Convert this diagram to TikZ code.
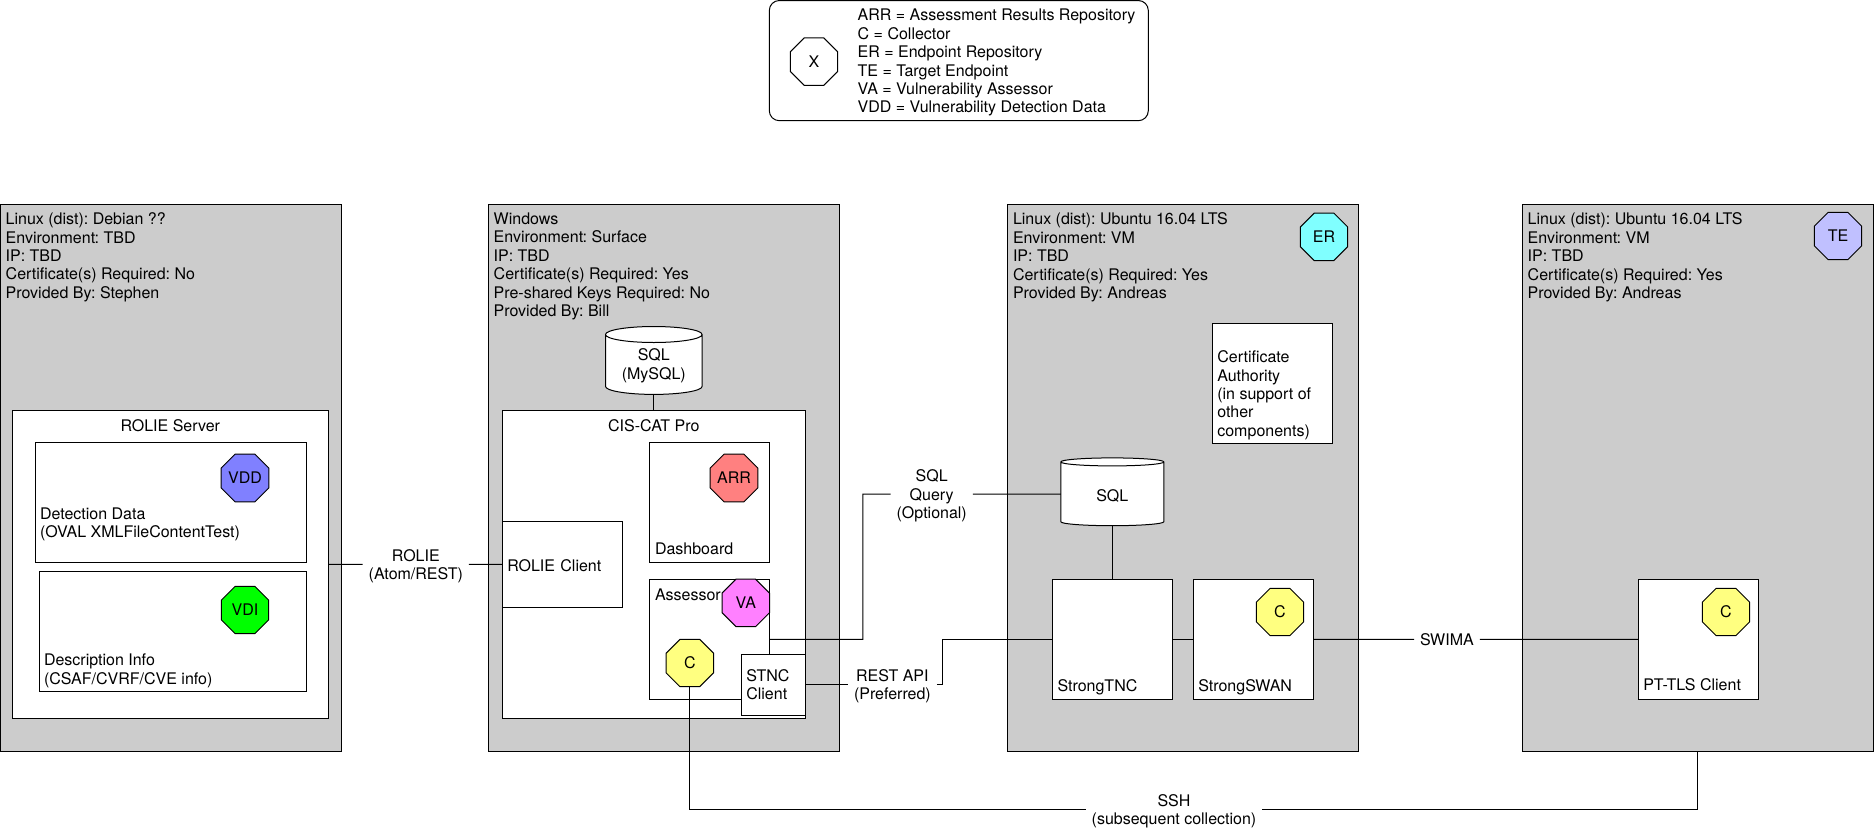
\documentclass[tikz,border=0pt]{standalone}
\usepackage{fontspec}
\setmainfont{TeX Gyre Heros}
\usetikzlibrary{positioning,shapes.geometric}

\definecolor{hostgray}{HTML}{CCCCCC}
\definecolor{vddblue}{HTML}{8080FF}
\definecolor{vdigreen}{HTML}{00FF00}
\definecolor{arrred}{HTML}{FF8080}
\definecolor{vapink}{HTML}{FF80FF}
\definecolor{cyellow}{HTML}{FFFF80}
\definecolor{ercyan}{HTML}{80FFFF}
\definecolor{televender}{HTML}{C0C0FF}

\newcommand{\lowertext}[2]{\raisebox{-#1}[\height][\depth]{#2}}

\begin{document}
\frenchspacing
\begin{tikzpicture}[
        x=1pt, y=-1pt, line width=1pt,
        every node/.style={font=\fontsize{16}{18.4}\selectfont, inner sep=0pt, outer sep=0pt},
        host/.style={draw, fill=hostgray, minimum height=547pt},
        hostinfo/.style={align=left},
        box/.style={draw, fill=white, minimum width=120pt, minimum height=120pt},
        boxtext/.style={align=left},
        badge/.style={draw, regular polygon, regular polygon sides=8, minimum size=51.3pt},
        store/.style={draw, fill=white, cylinder, shape border rotate=90, aspect=0.25},
        linklabel/.style={align=center, inner xsep=6pt, yshift=-1.8pt}
    ]
    \useasboundingbox (0,0) rectangle (1874,833);

    % --- Legend ---
    \node[draw, rounded corners=10pt, minimum width=379pt, minimum height=120.2pt, anchor=north west] (legend) at (769.3,0.5) {};
    \node[badge, xshift=44.7pt, yshift=-1pt] (xmark) at (legend.west) {X};
    \node[boxtext, anchor=west, xshift=88.4pt, yshift=-2.2pt] (legendtext) at (legend.west) {ARR = Assessment Results Repository\\C = Collector\\ER = Endpoint Repository\\TE = Target Endpoint\\VA = Vulnerability Assessor\\VDD = Vulnerability Detection Data};

    % --- Hosts ---
    \node[host, minimum width=340.5pt, anchor=north west] (h1) at (0.5,204.3) {};
    \node[host, minimum width=351pt, right=147.3pt of h1] (h2) {};
    \node[host, minimum width=351pt, right=168pt of h2] (h3) {};
    \node[host, minimum width=351pt, right=164pt of h3] (h4) {};

    \node[hostinfo, below right=8.6pt and 5.2pt of h1.north west] (h1info) {Linux (dist): Debian ??\\Environment: TBD\\IP: TBD\\Certificate(s) Required: No\\Provided By: Stephen};
    \node[hostinfo, below right=8.6pt and 5.4pt of h2.north west] (h2info) {Windows\\Environment: Surface\\IP: TBD\\Certificate(s) Required: Yes\\Pre-shared Keys Required: No\\Provided By: Bill};
    \node[hostinfo, below right=8.6pt and 5.7pt of h3.north west] (h3info) {Linux (dist): Ubuntu 16.04 LTS\\Environment: VM\\IP: TBD\\Certificate(s) Required: Yes\\Provided By: Andreas};
    \node[hostinfo, below right=8.6pt and 5.4pt of h4.north west] (h4info) {Linux (dist): Ubuntu 16.04 LTS\\Environment: VM\\IP: TBD\\Certificate(s) Required: Yes\\Provided By: Andreas};

    % --- ROLIE Server ---
    \node[box, minimum width=316pt, minimum height=307.8pt, below right=206.1pt and 11.8pt of h1.north west] (srv) {};
    \node[below=9.6pt of srv.north] (srvtitle) {ROLIE Server};
    \node[box, minimum width=271pt, below right=32.1pt and 23pt of srv.north west] (det) {};
    \node[box, minimum width=267pt, below left=8.9pt and 0pt of det.south east] (desc) {};
    \node[boxtext, above right=21.5pt and 4.7pt of det.south west] (dettext) {Detection Data\\(OVAL XMLFileContentTest)};
    \node[boxtext, above right=3.7pt and 4.7pt of desc.south west] (desctext) {Description Info\\(CSAF/CVRF/CVE info)};
    \node[badge, fill=vddblue, xshift=-61.3pt, yshift=-35.5pt] (vdd) at (det.north east) {VDD};
    \node[badge, fill=vdigreen, xshift=-61.3pt, yshift=-38.6pt] (vdi) at (desc.north east) {VDI};

    % --- CIS-CAT Pro ---
    \node[box, minimum width=303pt, minimum height=307.8pt, below right=206.1pt and 14pt of h2.north west] (cis) {};
    \node[below=9.6pt of cis.north] (cistitle) {CIS-CAT Pro};
    \node[store, minimum width=96.6pt, minimum height=67.9pt, above=16pt of cis] (mysql) {\lowertext{1.8pt}{\begin{tabular}{@{}c@{}}SQL\\(MySQL)\end{tabular}}};
    \node[box, below right=32.1pt and 147pt of cis.north west] (dash) {};
    \node[boxtext, above right=7.5pt and 5.7pt of dash.south west] (dashtext) {Dashboard};
    \node[badge, fill=arrred, xshift=-35.3pt, yshift=-35.5pt] (arr) at (dash.north east) {ARR};
    \node[box, below=16.8pt of dash] (assessor) {};
    \node[boxtext, below right=9.6pt and 5.7pt of assessor.north west] (assessortext) {Assessor};
    \node[badge, fill=vapink, xshift=-23.5pt, yshift=-23.6pt] (va) at (assessor.north east) {VA};
    \node[badge, fill=cyellow, xshift=40.5pt, yshift=36.3pt] (cwin) at (assessor.south west) {C};
    \node[box, minimum width=120pt, minimum height=85.7pt, text width=110pt, align=left, below right=111pt and 0pt of cis.north west] (rcli) {\lowertext{1pt}{ROLIE Client}};
    \node[box, minimum width=64pt, minimum height=61pt, text width=54pt, align=left, above left=3pt and 0pt of cis.south east] (stnc) {STNC\\Client};

    % --- Ubuntu endpoint repository ---
    \node[badge, fill=ercyan, xshift=-34.3pt, yshift=-32.5pt] (er) at (h3.north east) {ER};
    \node[box, below left=118.9pt and 26pt of h3.north east] (ca) {};
    \node[boxtext, above right=3.4pt and 5pt of ca.south west] (catext) {Certificate\\Authority\\(in support of\\other\\components)};
    \node[box, below right=375pt and 45pt of h3.north west] (tnc) {};
    \node[boxtext, above right=4.5pt and 5.2pt of tnc.south west] (tnctext) {StrongTNC};
    \node[box, right=21pt of tnc] (swan) {};
    \node[boxtext, above right=4.5pt and 5pt of swan.south west] (swantext) {StrongSWAN};
    \node[badge, fill=cyellow, xshift=-33.3pt, yshift=-32.7pt] (cswan) at (swan.north east) {C};
    \node[store, minimum width=103pt, minimum height=67.8pt, above=53.6pt of tnc] (sql) {\lowertext{2pt}{SQL}};

    % --- Target endpoint ---
    \node[badge, fill=televender, xshift=-35.3pt, yshift=-31.7pt] (te) at (h4.north east) {TE};
    \node[box, below right=375.2pt and 116pt of h4.north west] (pt) {};
    \node[boxtext, above right=8.4pt and 5pt of pt.south west] (pttext) {PT-TLS Client};
    \node[badge, fill=cyellow, xshift=-32.3pt, yshift=-32.5pt] (cpt) at (pt.north east) {C};

    % --- Link labels ---
    \node[linklabel, right=34.4pt of srv] (rolie) {ROLIE\\(Atom/REST)};
    \node[linklabel, left=88pt of sql] (sqlq) {SQL\\Query\\(Optional)};
    \node[linklabel, right=42.7pt of stnc] (rest) {REST API\\(Preferred)};
    \node[linklabel, yshift=1.8pt, right=100.7pt of swan] (swima) {SWIMA};
    \coordinate (sshline) at (1174,809.6);
    \node[linklabel] (ssh) at (sshline) {SSH\\(subsequent collection)};
    \coordinate[left=198pt of sql] (sqlbend);
    \coordinate[right=137pt of stnc] (restbend);

    % --- Connections ---
    \draw (mysql) -- (cis);
    \draw (srv) -- (rolie.west |- srv) (rolie.east |- srv) -- (rcli);
    \draw (assessor.east) -| (sqlbend) -- (sqlq.west |- sql) (sqlq.east |- sql) -- (sql);
    \draw (stnc) -- (rest.west |- stnc) (rest.east |- stnc) -- (restbend) |- (tnc);
    \draw (sql) -- (tnc);
    \draw (tnc) -- (swan);
    \draw (swan) -- (swima) -- (pt);
    \draw (cwin) |- (ssh.west |- sshline);
    \draw (h4) |- (ssh.east |- sshline);

    \end{tikzpicture}
\end{document}
